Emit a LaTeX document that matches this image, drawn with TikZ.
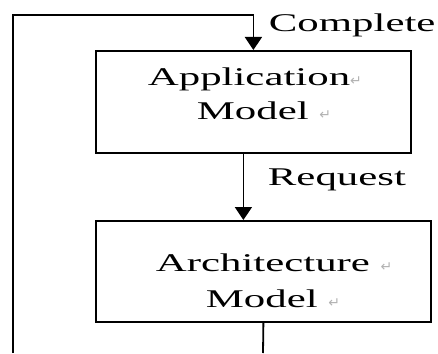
\documentclass[tikz,border=0pt]{standalone}
\usepackage{fontspec}
\setmainfont[FakeStretch=1.68]{Liberation Serif}
\newfontfamily\symfont{DejaVu Sans}
\usetikzlibrary{arrows.meta}
\newcommand{\retmark}{{\symfont\fontsize{14}{14}\selectfont\color{gray!60}\char"21B5}}
\begin{document}
\begin{tikzpicture}[x=1pt,y=-1pt,line width=1.8pt,
  box/.style={draw, inner sep=0pt, anchor=north west},
  lbl/.style={font=\fontsize{25.5}{28}\selectfont, inner sep=0pt, anchor=base west},
  arr/.style={-{Triangle[width=17pt,length=13pt]}}]
\useasboundingbox (0,0) rectangle (438,353);
% boxes
\node[box, minimum width=315pt, minimum height=102pt] (app) at (95,50) {};
\node[box, minimum width=335pt, minimum height=101pt] (arch) at (95,220) {};
% texts in boxes
\node[lbl] (appA) at (147,85) {Application\retmark};
\node[lbl] (appM) at (196,119) {Model \retmark};
\node[lbl] (archA) at (155,271) {Architecture \retmark};
\node[lbl] (archM) at (205,307) {Model \retmark};
% connector labels
\node[lbl] (complete) at (268,31) {Complete};
\node[lbl] (request) at (267,185) {Request};
% connectors
\coordinate (bl) at (13,353);
\coordinate (tl) at (13,15);
\coordinate (bm) at (263,353);
\draw[arr] (bl) -- (tl) -| (app.north);
\draw[arr] ([xshift=-10pt]app.south) -- ([xshift=-10pt]app.south |- arch.north);
\draw (arch.south) -- (bm);
\end{tikzpicture}
\end{document}
